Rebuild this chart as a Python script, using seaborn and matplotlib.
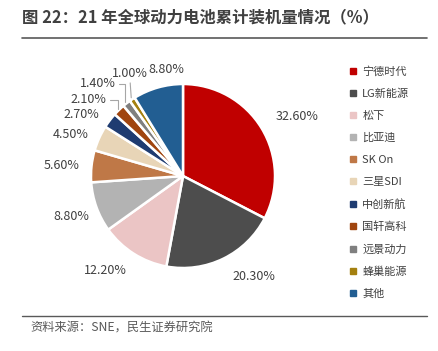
import numpy as np
import matplotlib
matplotlib.use("Agg")
import matplotlib.pyplot as plt
from matplotlib.lines import Line2D
import seaborn as sns

# data
companies = ['宁德时代', 'LG新能源', '松下', '比亚迪', 'SK On', '三星SDI',
             '中创新航', '国轩高科', '远景动力', '蜂巢能源', '其他']
shares = [32.6, 20.3, 12.2, 8.8, 5.6, 4.5, 2.7, 2.1, 1.4, 1.0, 8.8]
colors = ['#C00000', '#4D4D4D', '#EBC5C5', '#B3B3B3', '#BF7847', '#E8D5B7',
          '#1F3C71', '#A0450F', '#7F7F7F', '#A4800F', '#225E92']

title = '图 22：21 年全球动力电池累计装机量情况（%）'
source = '资料来源：SNE，民生证券研究院'

sns.set_theme(style='white')
plt.rcParams['font.family'] = ['Noto Sans CJK SC', 'DejaVu Sans']

W, H = 438, 351
cx, cy, R = 183, 176, 92
fig = plt.figure(figsize=(W / 100, H / 100), dpi=100)
ax = fig.add_axes([0, 0, 1, 1])

wedges, _ = ax.pie(shares, colors=colors, startangle=90, counterclock=False,
                   wedgeprops=dict(edgecolor='white', linewidth=1.8))
ax.set_xlim(-cx / R, (W - cx) / R)
ax.set_ylim(-(H - cy) / R, cy / R)
ax.set_aspect('auto')
ax.axis('off')

# label layout: radius and angle nudge per slice
lab_r = [1.40, 1.34, 1.33, 1.29, 1.33, 1.30, 1.29, 1.32, 1.37, 1.26, 1.17]
lab_da = [-4, 9, -7, 0, 1, 4, 6, 7, 5, -6, -7]
leaders = {7, 8, 9}
for i, (w, v) in enumerate(zip(wedges, shares)):
    mid = np.deg2rad((w.theta1 + w.theta2) / 2 + lab_da[i])
    tx, ty = lab_r[i] * np.cos(mid), lab_r[i] * np.sin(mid)
    txt = f'{v:.2f}%'
    if i in leaders:
        am = np.deg2rad((w.theta1 + w.theta2) / 2)
        px, py = 1.02 * np.cos(am), 1.02 * np.sin(am)
        ax.annotate(txt, xy=(px, py), xytext=(tx, ty), ha='center', va='center',
                    fontsize=9, color='#404040',
                    arrowprops=dict(arrowstyle='-', color='#A6A6A6', lw=0.8,
                                    shrinkA=0, shrinkB=0,
                                    connectionstyle='angle,angleA=0,angleB=90,rad=0'
                                    if i != 9 else 'arc3'))
    else:
        ax.text(tx, ty, txt, ha='center', va='center', fontsize=9, color='#404040')

handles = [Line2D([0], [0], marker='s', linestyle='', markersize=4,
                  markerfacecolor=c, markeredgecolor=c) for c in colors]
fig.legend(handles, companies, loc='upper left', bbox_to_anchor=(340 / W, 1 - 56 / H),
           frameon=False, fontsize=8, handlelength=0.6, handletextpad=0.5,
           labelspacing=1.07, labelcolor='#404040')

fig.text(22 / W, 1 - 17 / H, title, fontsize=11.8, fontweight='bold',
         color='#404040', va='center', ha='left')
fig.add_artist(Line2D([22 / W, 427 / W], [1 - 38 / H, 1 - 38 / H], color='#595959', lw=1.2))
fig.add_artist(Line2D([22 / W, 427 / W], [1 - 316 / H, 1 - 316 / H], color='#595959', lw=1.0))
fig.text(30 / W, 1 - 328 / H, source, fontsize=8.8, color='#595959', va='center', ha='left')

fig.savefig('out.png', dpi=100)
